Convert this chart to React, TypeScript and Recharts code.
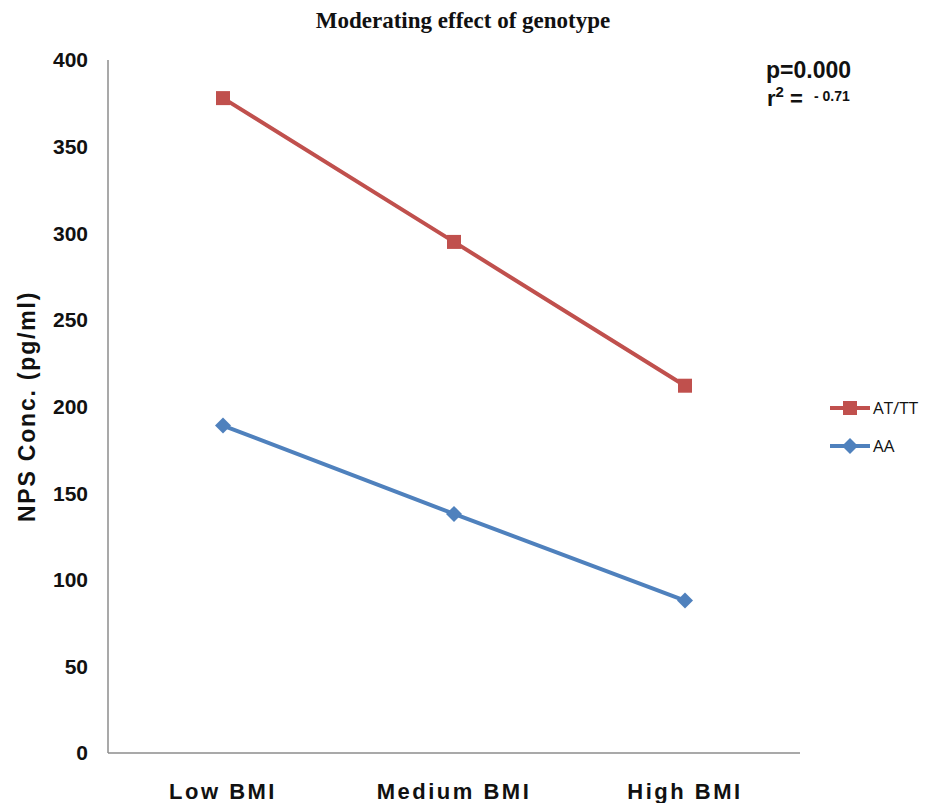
import React from 'react';
import { LineChart, Line, XAxis, YAxis, Customized } from 'recharts';

// categories and series
const categories = ['Low BMI', 'Medium BMI', 'High BMI'];
const atTT = [378, 295, 212];
const aa = [189, 138, 88];
const yTicks = [0, 50, 100, 150, 200, 250, 300, 350, 400];

const RED = '#C0504D';
const BLUE = '#4F81BD';
const FONT = '"Liberation Sans", Arial, sans-serif';

const data = categories.map((c, i) => ({ name: c, atTT: atTT[i], aa: aa[i] }));

const SquareDot = (props: any) => {
  const { cx, cy, key } = props;
  if (cx == null || cy == null) return null;
  return <rect key={key} x={cx - 7} y={cy - 7} width={14} height={14} fill={RED} />;
};

const DiamondDot = (props: any) => {
  const { cx, cy, key } = props;
  if (cx == null || cy == null) return null;
  return (
    <polygon
      key={key}
      points={`${cx},${cy - 8} ${cx + 8},${cy} ${cx},${cy + 8} ${cx - 8},${cy}`}
      fill={BLUE}
    />
  );
};

const legendItems = [
  { label: 'AT/TT', color: RED, shape: 'square' },
  { label: 'AA', color: BLUE, shape: 'diamond' },
];

// legend drawn by hand so it doesn't shrink the plot area
const LegendBlock = () => (
  <g>
    {legendItems.map((it, i) => {
      const y = 408 + i * 38;
      return (
        <g key={it.label}>
          <line x1={830} y1={y} x2={870} y2={y} stroke={it.color} strokeWidth={4} />
          {it.shape === 'square' ? (
            <rect x={843} y={y - 7} width={14} height={14} fill={it.color} />
          ) : (
            <polygon points={`850,${y - 8} 858,${y} 850,${y + 8} 842,${y}`} fill={it.color} />
          )}
          <text
            x={873}
            y={y + 6}
            fontFamily='"Open Sans", "Liberation Sans", sans-serif'
            fontSize={17}
            fill="#111"
          >
            {it.label}
          </text>
        </g>
      );
    })}
  </g>
);

const Annotations = () => (
  <g>
    <text
      x={463}
      y={28}
      textAnchor="middle"
      fontFamily='"Liberation Serif", "Times New Roman", serif'
      fontWeight="bold"
      fontSize={23}
      fill="#111"
    >
      Moderating effect of genotype
    </text>
    <text x={766} y={78} fontFamily={FONT} fontWeight="bold" fontSize={23} fill="#111">
      p=0.000
    </text>
    <text x={767} y={106} fontFamily={FONT} fontWeight="bold" fontSize={22} fill="#111">
      r
      <tspan fontSize={15} dy={-9}>2</tspan>
      <tspan fontSize={22} dy={9}> = </tspan>
      <tspan fontSize={14} dy={-5} dx={5}>- 0.71</tspan>
    </text>
  </g>
);

export default function App() {
  return (
    <div style={{ position: 'absolute', left: 0, top: 0, width: 930, height: 803, background: '#fff' }}>
      <LineChart
        width={930}
        height={803}
        data={data}
        margin={{ top: 60, right: 130, bottom: 0, left: 48 }}
      >
        <XAxis
          dataKey="name"
          padding={{ left: 115, right: 115 }}
          axisLine={{ stroke: '#8c8c8c', strokeWidth: 1.5 }}
          tickLine={false}
          tickSize={0}
          tickMargin={30}
          height={50}
          tick={{ fontFamily: FONT, fontWeight: 'bold', fontSize: 22, fill: '#111', letterSpacing: 2.5 }}
        />
        <YAxis
          domain={[0, 400]}
          ticks={yTicks}
          width={60}
          axisLine={{ stroke: '#8c8c8c', strokeWidth: 1.5 }}
          tickLine={false}
          tickSize={12}
          tickMargin={8}
          tick={{ fontFamily: FONT, fontWeight: 'bold', fontSize: 21, fill: '#111' }}
          label={{
            value: 'NPS Conc. (pg/ml)',
            angle: -90,
            position: 'insideLeft',
            offset: -21,
            style: {
              fontFamily: FONT,
              fontWeight: 'bold',
              fontSize: 23,
              letterSpacing: 1.8,
              fill: '#111',
              textAnchor: 'middle',
            },
          }}
        />
        <Line
          type="linear"
          dataKey="atTT"
          name="AT/TT"
          stroke={RED}
          strokeWidth={4}
          dot={SquareDot}
          activeDot={false}
          isAnimationActive={false}
        />
        <Line
          type="linear"
          dataKey="aa"
          name="AA"
          stroke={BLUE}
          strokeWidth={4}
          dot={DiamondDot}
          activeDot={false}
          isAnimationActive={false}
        />
        <Customized component={LegendBlock} />
        <Customized component={Annotations} />
      </LineChart>
    </div>
  );
}
